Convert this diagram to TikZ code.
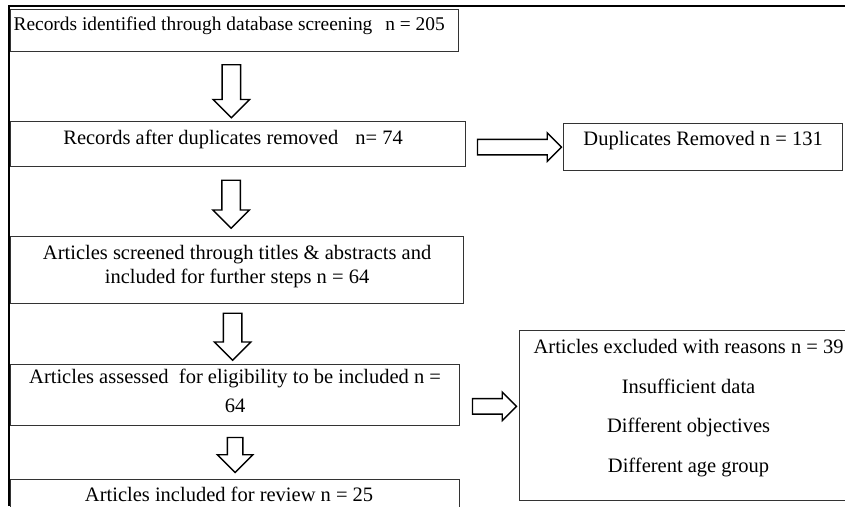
\documentclass[tikz,border=0pt]{standalone}
\usepackage{fontspec}
\setmainfont{Liberation Serif}
\usepackage{tikz}
\usetikzlibrary{calc,shapes.arrows}

\begin{document}
\begin{tikzpicture}[x=1pt,y=-1pt,
	box/.style={draw=black!80, line width=1.2pt, fill=white, anchor=north west,
		inner xsep=3pt, inner ysep=0pt, align=center,
		font=\fontsize{20.5}{24}\selectfont},
	downarr/.style={single arrow, draw=black, line width=1.4pt, fill=white,
		rotate=-90, inner xsep=0pt, inner ysep=8.5pt, single arrow head extend=9pt},
	rightarr/.style={single arrow, draw=black, line width=1.4pt, fill=white,
		inner xsep=0pt, inner ysep=7pt, single arrow head extend=6.5pt}]
	
	\useasboundingbox (0,0) rectangle (845,506);
	\clip (0,0) rectangle (845,506);
	\draw[line width=1.4pt] (9,506) -- (9,6) -- (845,6);
	
	\node[box, minimum width=448pt, text height=21pt, text depth=21pt, font=\fontsize{19.4}{24}\selectfont] (recs) at (10,9)
		{\makebox[442pt][l]{Records identified through database screening\hspace{8pt} n = 205}};
	\node[box, minimum width=455pt, text height=23pt, text depth=22pt] (dedup) at (10,121)
		{Records after duplicates removed\hspace{12pt} n= 74\hspace{10pt}};
	\node[box, minimum width=279pt, text height=22pt, text depth=25pt] (dupl) at (563,123)
		{Duplicates Removed n = 131};
	\node[box, minimum width=453pt, minimum height=67pt] (screen) at (10,236)
		{Articles screened through titles \& abstracts and\\ included for further steps n = 64\rule[-11pt]{0pt}{0pt}};
	\node[box, minimum width=449pt, minimum height=61pt, font=\fontsize{20.5}{29}\selectfont] (assess) at (10,364)
		{Articles assessed\ \ for eligibility to be included n =\\ 64\rule[-9pt]{0pt}{0pt}};
	\node[box, minimum width=338pt, minimum height=170pt, font=\fontsize{20.5}{39.6}\selectfont] (excl) at (519,330)
		{Articles excluded with reasons n = 39\\ Insufficient data\\ Different objectives\\ Different age group\rule[-19.5pt]{0pt}{0pt}};
	\node[box, minimum width=449pt, text height=22pt, text depth=25pt] (incl) at (10,479)
		{Articles included for review n = 25\hspace{12pt}};
	
	\node[downarr, minimum height=53pt] (ar1) at ($(recs.south)!.5!(dedup.north)+(-5,0)$) {};
	\node[downarr, minimum height=48pt] (ar2) at ($(dedup.south)!.5!(screen.north)+(-6.5,-2)$) {};
	\node[downarr, minimum height=47pt] (ar3) at ($(screen.south)!.5!(assess.north)+(-3.5,-2)$) {};
	\node[downarr, minimum height=35pt, inner ysep=7pt, single arrow head extend=10pt] (ar4) at ($(assess.south)!.5!(incl.north)+(0,-1.5)$) {};
	\node[rightarr, minimum height=84pt] (ar5) at ($(dedup.east)!.5!(dupl.west)+(1,1.5)$) {};
	\node[rightarr, minimum height=44pt] (ar6) at ($(assess.east)!.5!(excl.west)+(1,1)$) {};
	
\end{tikzpicture}
\end{document}
